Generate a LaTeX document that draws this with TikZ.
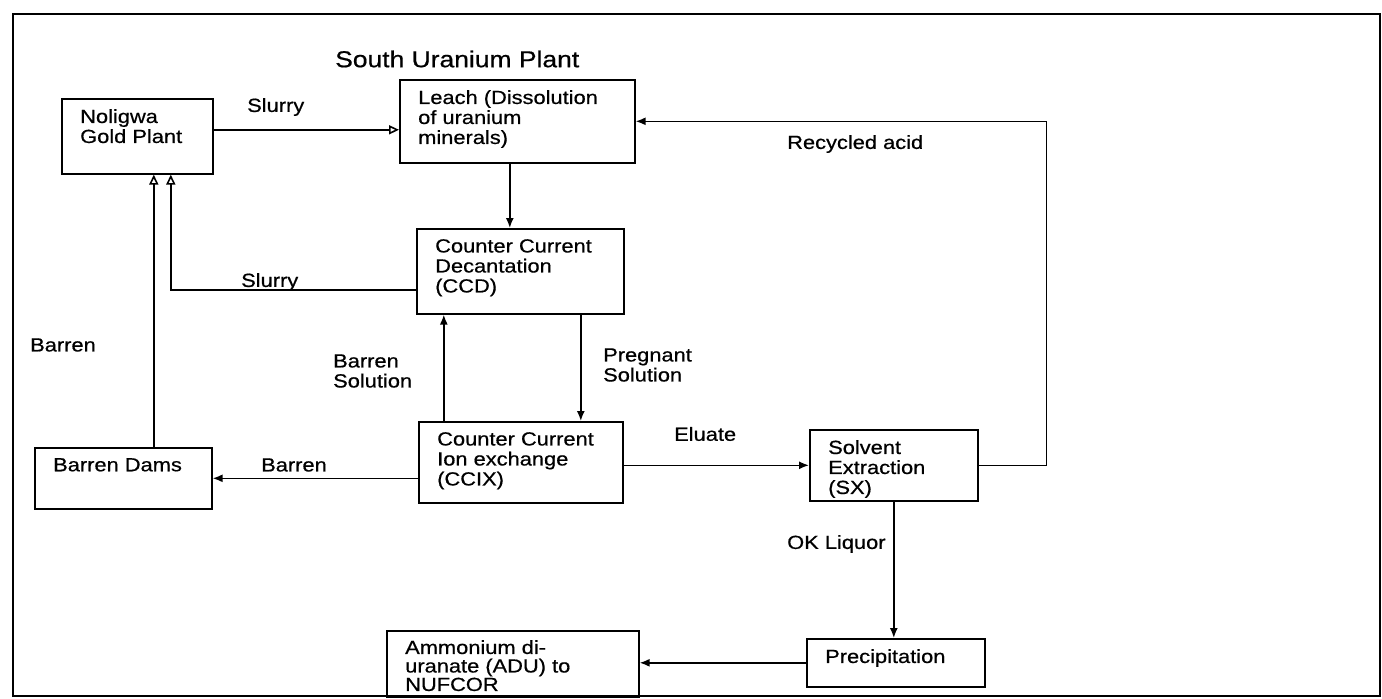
\documentclass[tikz,border=0pt]{standalone}
\usepackage{fontspec}
\setmainfont{Liberation Sans}[FakeStretch=1.15, FakeBold=0.6]
\usetikzlibrary{arrows.meta, positioning, calc}

\begin{document}
\begin{tikzpicture}[x=1pt, y=-1pt, font=\fontsize{19pt}{20pt}\selectfont]
    \tikzset{
        unit/.style={rectangle, draw, line width=1.6pt, anchor=north west, inner sep=0pt},
        inside/.style={anchor=north west, align=left, inner xsep=19pt, inner ysep=11pt},
        flow/.style={line width=1.6pt, -{Latex[length=10pt, width=8pt]}},
        back/.style={line width=1.6pt, -{Triangle[open, length=10pt, width=9pt]}},
        tag/.style={anchor=west, align=left, inner sep=0pt}
    }
    \useasboundingbox (0,0) rectangle (1382,699);
    \draw[line width=1.8pt] (13,14) rectangle (1380,696);
    \node[anchor=west, inner sep=0pt, font=\fontsize{23pt}{25pt}\selectfont] (title) at (335,59) {South Uranium Plant};
    % process units
    \node[unit, minimum width=151, minimum height=75,
          label={[inside]north west:Noligwa\\Gold Plant}] (gold) at (61,98) {};
    \node[unit, minimum width=235, minimum height=83,
          label={[inside]north west:Leach (Dissolution\\of uranium\\minerals)}] (leach) at (399,79) {};
    \node[unit, minimum width=207, minimum height=85,
          label={[inside]north west:Counter Current\\Decantation\\(CCD)}] (ccd) at (416,228) {};
    \node[unit, minimum width=204, minimum height=81,
          label={[inside]north west:Counter Current\\Ion exchange\\(CCIX)}] (ccix) at (418,421) {};
    \node[unit, minimum width=168, minimum height=71,
          label={[inside]north west:Solvent\\Extraction\\(SX)}] (sx) at (809,429) {};
    \node[unit, minimum width=177, minimum height=61,
          label={[inside]north west:Barren Dams}] (dams) at (34,447) {};
    \node[unit, minimum width=178, minimum height=48,
          label={[inside]north west:Precipitation}] (precip) at (806,638) {};
    \node[unit, minimum width=252, minimum height=66,
          label={[inside, inner ysep=10pt, font=\fontsize{19pt}{18.5pt}\selectfont]north west:Ammonium di-\\uranate (ADU) to\\NUFCOR}] (adu) at (386,630) {};
    % streams
    \draw[back] ([yshift=6.5pt]gold.east) -- ([yshift=6.5pt]gold.east -| leach.west);
    \draw[flow] (sx.east) -- ++(68,0) |- (leach.east);
    \draw[flow] ([xshift=-7.5pt]leach.south) -- ([xshift=-7.5pt]leach.south |- ccd.north);
    \draw[back] ([yshift=-18.5pt]ccd.west) -| ([xshift=33.5pt]gold.south);
    \draw[back] ([xshift=30.5pt]dams.north) -- ([xshift=30.5pt]dams.north |- gold.south);
    \draw[flow] ([xshift=-77pt]ccix.north) -- ([xshift=-77pt]ccix.north |- ccd.south);
    \draw[flow] ([xshift=60.5pt]ccd.south) -- ([xshift=60.5pt]ccd.south |- ccix.north);
    \draw[flow] (dams.east -| ccix.west) -- (dams.east);
    \draw[flow] (ccix.east |- sx.west) -- (sx.west);
    \draw[flow] (sx.south) -- (sx.south |- precip.north);
    \draw[flow] (precip.west) -- (precip.west -| adu.east);
    % stream names
    \node[tag] (slurry1) at (247,107) {Slurry};
    \node[tag] (acid) at (787,144) {Recycled acid};
    \node[tag] (slurry2) at (241,282) {Slurry};
    \node[tag] (barren1) at (30,345) {Barren};
    \node[tag] (bsol) at (333,371) {Barren\\Solution};
    \node[tag] (psol) at (603,365) {Pregnant\\Solution};
    \node[tag] (barren2) at (261,465) {Barren};
    \node[tag] (eluate) at (674,434) {Eluate};
    \node[tag] (okliq) at (787,544) {OK Liquor};
\end{tikzpicture}
\end{document}
